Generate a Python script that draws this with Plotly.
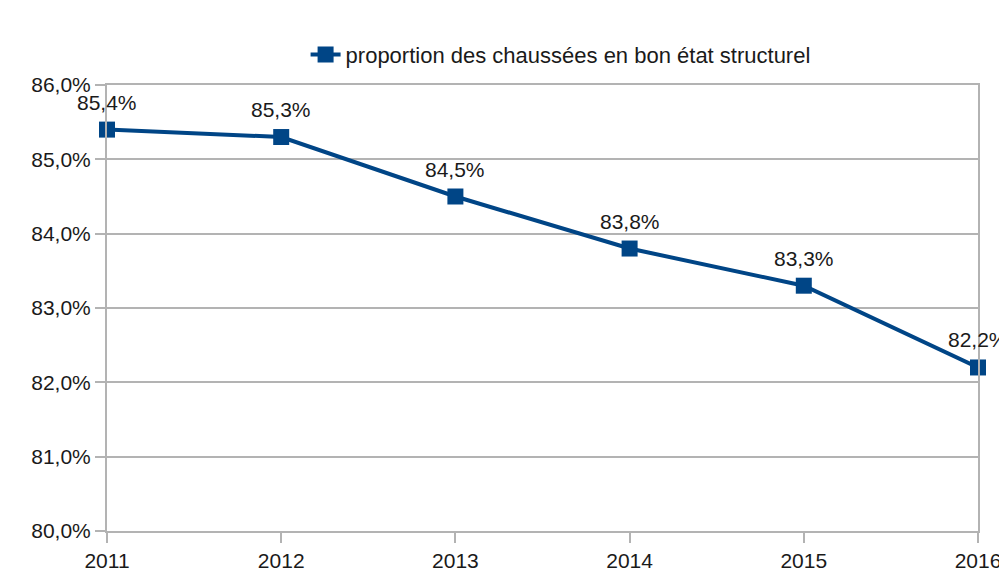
import plotly.graph_objects as go

years = [2011, 2012, 2013, 2014, 2015, 2016]
values = [0.854, 0.853, 0.845, 0.838, 0.833, 0.822]
series_name = "proportion des chaussées en bon état structurel"
y_ticks = [0.80, 0.81, 0.82, 0.83, 0.84, 0.85, 0.86]

blue = "#004586"
grid = "#b3b3b3"
txt = "#1a1a1a"
font_family = "Liberation Sans, Arial, sans-serif"
fs = 21

fig = go.Figure()
fig.add_trace(go.Scatter(
    x=years, y=values, mode="lines+markers", name=series_name,
    line=dict(color=blue, width=4),
    marker=dict(symbol="square", size=16, color=blue),
    cliponaxis=False,
))

for xv, yv in zip(years, values):
    fig.add_annotation(
        x=xv, y=yv, text=f"{yv*100:.1f}%".replace(".", ","),
        showarrow=False, yanchor="bottom", yshift=14,
        font=dict(family=font_family, size=fs, color=txt),
    )

fig.update_layout(
    width=999, height=568,
    paper_bgcolor="white", plot_bgcolor="white",
    margin=dict(l=99, r=29, t=77, b=45, autoexpand=False),
    separators=", ",
    font=dict(family=font_family, size=fs, color=txt),
    showlegend=True,
    legend=dict(orientation="h", x=0.228, xanchor="left", y=1.115, yanchor="top",
                font=dict(family=font_family, size=22, color=txt),
                bgcolor="rgba(0,0,0,0)"),
    xaxis=dict(
        range=[2011, 2016], tickvals=years, ticktext=[str(y) for y in years],
        showgrid=False, zeroline=False,
        showline=True, linecolor=grid, linewidth=2, mirror=True,
        ticks="outside", ticklen=10, tickcolor=grid, tickwidth=2,
    ),
    yaxis=dict(
        range=[0.80, 0.86], tickvals=y_ticks, tickformat=".1%",
        showgrid=True, gridcolor=grid, gridwidth=2, zeroline=False,
        showline=True, linecolor=grid, linewidth=2, mirror=True,
        ticks="outside", ticklen=10, tickcolor=grid, tickwidth=2,
    ),
)

fig.write_html("out.html")
